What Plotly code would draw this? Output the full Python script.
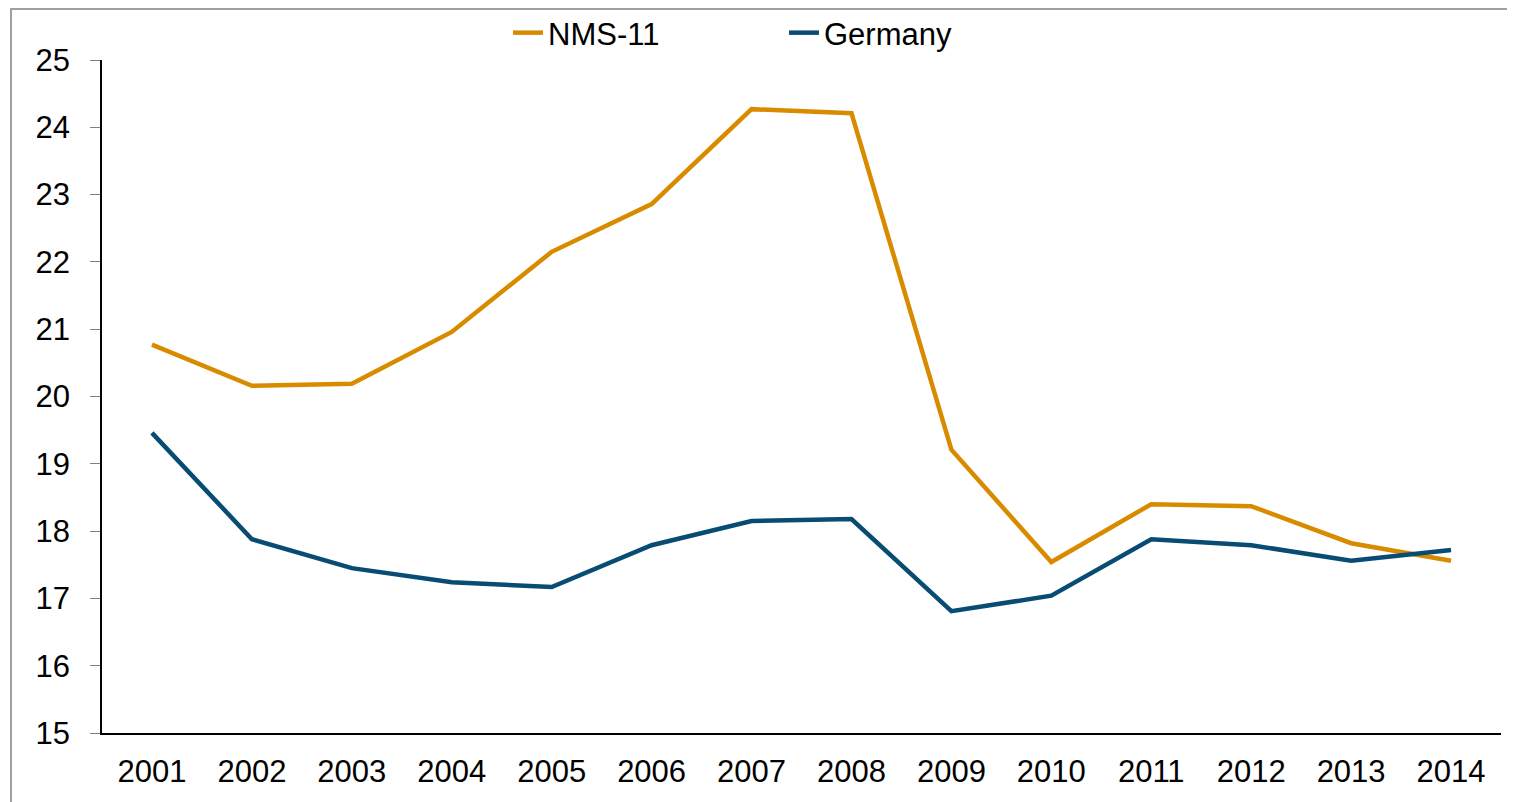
import plotly.graph_objects as go

years = ["2001", "2002", "2003", "2004", "2005", "2006", "2007",
         "2008", "2009", "2010", "2011", "2012", "2013", "2014"]
nms11 = [20.77, 20.16, 20.19, 20.96, 22.15, 22.86, 24.27,
         24.21, 19.21, 17.54, 18.40, 18.37, 17.82, 17.56]
germany = [19.46, 17.88, 17.45, 17.24, 17.17, 17.79, 18.15,
           18.18, 16.81, 17.04, 17.88, 17.79, 17.56, 17.72]
y_ticks = [15, 16, 17, 18, 19, 20, 21, 22, 23, 24, 25]

ORANGE = "#D98B00"
BLUE = "#084C73"
FONT = "Liberation Sans, Arial, sans-serif"
NARROW = "Liberation Sans Narrow, Arial Narrow, Liberation Sans, sans-serif"

fig = go.Figure()
fig.add_trace(go.Scatter(x=years, y=nms11, name="NMS-11", mode="lines",
                         line=dict(color=ORANGE, width=4.5)))
fig.add_trace(go.Scatter(x=years, y=germany, name="Germany", mode="lines",
                         line=dict(color=BLUE, width=4.5)))

# page body has an 8px margin; figure coordinates = screen - 8
OFF = 8
W, H = 1515 - OFF, 802 - OFF
L, T = 102 - OFF, 60 - OFF
R, B = 1515 - 1501, 802 - 733
pw, ph = W - L - R, H - T - B


def px(xs):
    return (xs - OFF - L) / pw


def py(ys):
    return 1 - (ys - OFF - T) / ph


fig.update_layout(
    width=W, height=H,
    margin=dict(l=L, r=R, t=T, b=B, autoexpand=False),
    paper_bgcolor="white", plot_bgcolor="white",
    font=dict(family=FONT, size=31, color="black"),
    showlegend=True,
    legend=dict(orientation="h", x=px(508), xanchor="left",
                y=py(33), yanchor="middle",
                entrywidth=231, entrywidthmode="pixels",
                font=dict(family=NARROW, size=31, color="black"),
                bgcolor="rgba(0,0,0,0)", itemwidth=30, tracegroupgap=0),
    xaxis=dict(type="category", range=[-0.5, 13.5], showline=True,
               linecolor="black", linewidth=1.5, showgrid=False,
               ticks="", ticklabelstandoff=10, zeroline=False),
    yaxis=dict(range=[15, 25], tickvals=y_ticks, showline=True,
               linecolor="black", linewidth=1.5, showgrid=False,
               ticks="outside", ticklen=10, tickcolor="#808080",
               tickwidth=1, ticklabelstandoff=14, zeroline=False),
    shapes=[dict(type="rect", xref="paper", yref="paper",
                 x0=px(11), x1=px(1525),
                 y0=py(815), y1=py(9),
                 line=dict(color="#A0A0A0", width=2), layer="below")],
)

fig.write_html("out.html")
